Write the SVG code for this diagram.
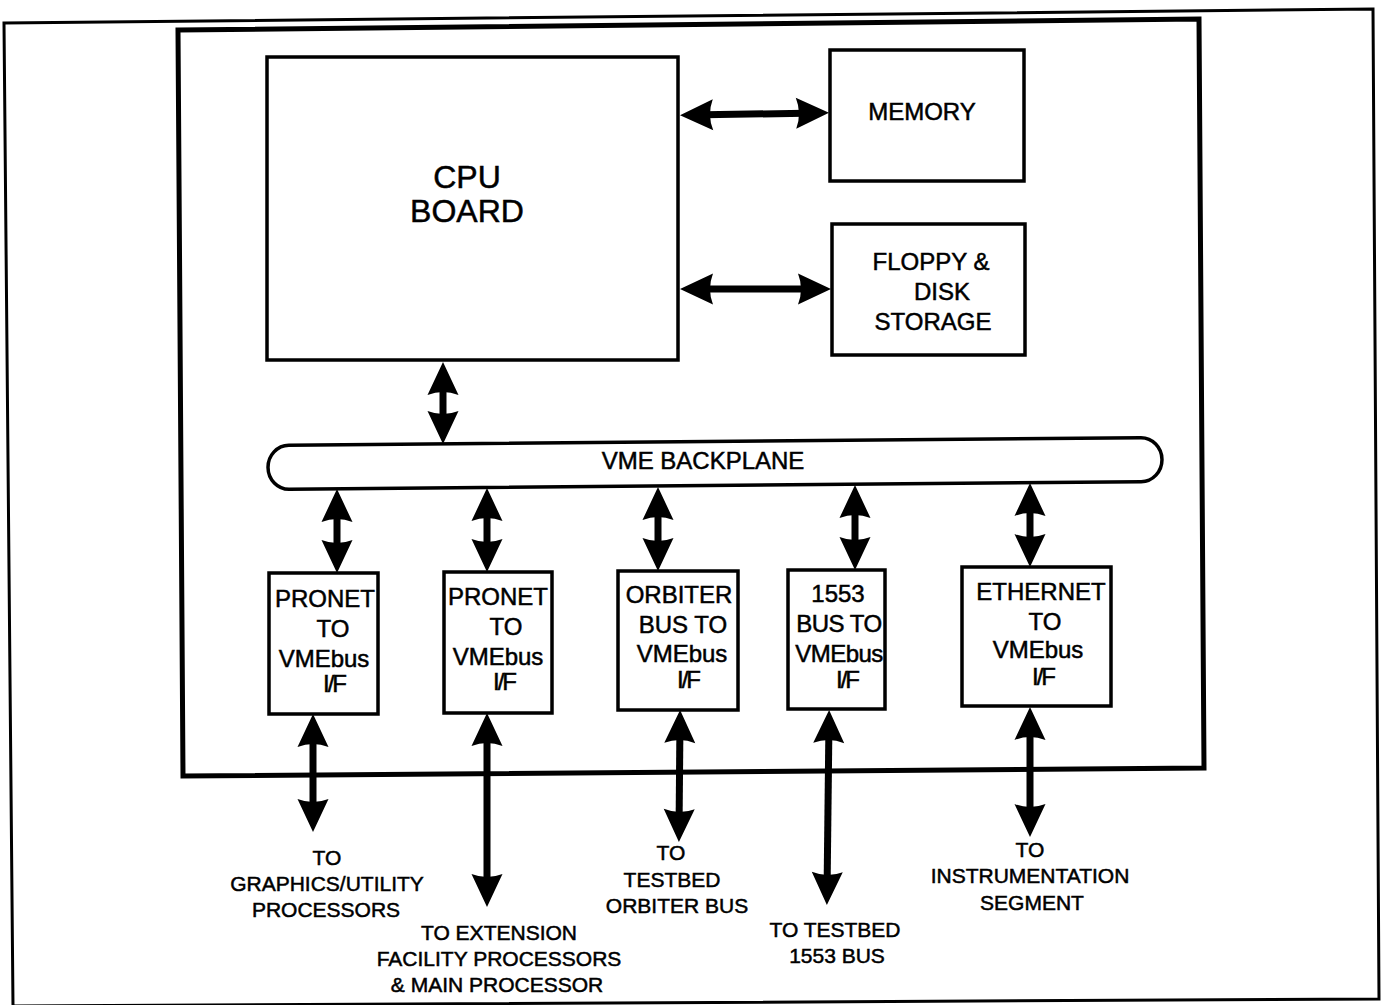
<svg xmlns="http://www.w3.org/2000/svg" width="1382" height="1005" viewBox="0 0 1382 1005">
  <style>
    .box { fill: #fff; stroke: #000; stroke-width: 3.5; }
    .frame { fill: none; stroke: #000; stroke-linejoin: miter; }
    .t { font-family: "Liberation Sans", Arial, Helvetica, sans-serif; fill: #000; stroke: #000; stroke-width: 0.5; text-anchor: middle; }
    .big { font-size: 32px; }
    .mid { font-size: 24px; }
    .lbl { font-size: 21px; }
    .slash { letter-spacing: -2px; }
    .link { fill: none; stroke: #000; stroke-width: 7; marker-start: url(#head); marker-end: url(#head); }
  </style>
  <defs>
    <!-- solid arrowhead with a slightly hollowed back edge -->
    <marker id="head" markerUnits="userSpaceOnUse" markerWidth="36" markerHeight="34" viewBox="0 -17 36 34" refX="23" refY="0" orient="auto-start-reverse" overflow="visible">
      <path d="M33,0 L0,-15.5 Q6,0 0,15.5 Z" fill="#000"/>
    </marker>
  </defs>

  <rect width="1382" height="1005" fill="#fff"/>

  <!-- page border and enclosure -->
  <g id="page-border">
    <polygon class="frame" stroke-width="3" points="4,23 1373,9 1379,999 13,1006"/>
  </g>
  <g id="enclosure">
    <polygon class="frame" stroke-width="5" points="178,30 1199,19 1204,768 183,776"/>
  </g>

  <g id="cpu-board">
    <rect class="box" x="267" y="57" width="411" height="303"/>
    <text class="t big" x="467" y="188">CPU</text>
    <text class="t big" x="467" y="222">BOARD</text>
  </g>

  <g id="memory">
    <rect class="box" x="830" y="50" width="194" height="131"/>
    <text class="t mid" x="922" y="120">MEMORY</text>
  </g>

  <g id="floppy-disk">
    <rect class="box" x="832" y="224" width="193" height="131"/>
    <text class="t mid" x="931" y="270">FLOPPY &amp;</text>
    <text class="t mid" x="942" y="300">DISK</text>
    <text class="t mid" x="933" y="330">STORAGE</text>
  </g>

  <g id="vme-backplane">
    <rect class="box" x="268" y="441.5" width="894" height="44" rx="21" ry="22" transform="rotate(-0.51 715 463.5)"/>
    <text class="t mid" x="703" y="469">VME BACKPLANE</text>
  </g>

  <g id="pronet-if-1">
    <rect class="box" x="269" y="573" width="109" height="141"/>
    <text class="t mid" x="325" y="607">PRONET</text>
    <text class="t mid" x="333" y="637">TO</text>
    <text class="t mid" x="324" y="667">VMEbus</text>
    <text class="t mid slash" x="334" y="692">I/F</text>
  </g>

  <g id="pronet-if-2">
    <rect class="box" x="444" y="572" width="108" height="141"/>
    <text class="t mid" x="498" y="605">PRONET</text>
    <text class="t mid" x="506" y="635">TO</text>
    <text class="t mid" x="498" y="665">VMEbus</text>
    <text class="t mid slash" x="504" y="690">I/F</text>
  </g>

  <g id="orbiter-if">
    <rect class="box" x="618" y="571" width="120" height="139"/>
    <text class="t mid" x="679" y="603">ORBITER</text>
    <text class="t mid" x="683" y="633">BUS TO</text>
    <text class="t mid" x="682" y="662">VMEbus</text>
    <text class="t mid slash" x="688" y="688">I/F</text>
  </g>

  <g id="bus1553-if">
    <rect class="box" x="788" y="570" width="97" height="139"/>
    <text class="t mid" x="838" y="602">1553</text>
    <text class="t mid" x="839" y="632" letter-spacing="-0.5">BUS TO</text>
    <text class="t mid" x="839" y="662" letter-spacing="-0.5">VMEbus</text>
    <text class="t mid slash" x="847" y="688">I/F</text>
  </g>

  <g id="ethernet-if">
    <rect class="box" x="962" y="567" width="149" height="139"/>
    <text class="t mid" x="1041" y="600">ETHERNET</text>
    <text class="t mid" x="1045" y="630">TO</text>
    <text class="t mid" x="1038" y="658">VMEbus</text>
    <text class="t mid slash" x="1043" y="685">I/F</text>
  </g>

  <!-- external destinations -->
  <g id="dest-graphics">
    <text class="t lbl" x="327" y="865">TO</text>
    <text class="t lbl" x="327" y="891">GRAPHICS/UTILITY</text>
    <text class="t lbl" x="326" y="917">PROCESSORS</text>
  </g>
  <g id="dest-extension">
    <text class="t lbl" x="499" y="940">TO EXTENSION</text>
    <text class="t lbl" x="499" y="966">FACILITY PROCESSORS</text>
    <text class="t lbl" x="497" y="992">&amp; MAIN PROCESSOR</text>
  </g>
  <g id="dest-orbiter">
    <text class="t lbl" x="671" y="860">TO</text>
    <text class="t lbl" x="672" y="887">TESTBED</text>
    <text class="t lbl" x="677" y="913">ORBITER BUS</text>
  </g>
  <g id="dest-1553">
    <text class="t lbl" x="835" y="937">TO TESTBED</text>
    <text class="t lbl" x="837" y="963">1553 BUS</text>
  </g>
  <g id="dest-instrumentation">
    <text class="t lbl" x="1030" y="857">TO</text>
    <text class="t lbl" x="1030" y="883">INSTRUMENTATION</text>
    <text class="t lbl" x="1032" y="910">SEGMENT</text>
  </g>

  <!-- bidirectional links -->
  <g id="connectors">
    <path class="link" d="M690,115 L819,113"/>
    <path class="link" d="M690,289 L821,289"/>
    <path class="link" d="M443,372 L443,434"/>
    <path class="link" d="M337,499 L337,563"/>
    <path class="link" d="M487,498 L487,562"/>
    <path class="link" d="M658,497 L658,561"/>
    <path class="link" d="M855,495 L855,560"/>
    <path class="link" d="M1030,493 L1030,557"/>
    <path class="link" d="M313,724 L313,822"/>
    <path class="link" d="M487,723 L487,897"/>
    <path class="link" d="M680,720 L679,832"/>
    <path class="link" d="M829,720 L827,895"/>
    <path class="link" d="M1030,717 L1030,827"/>
  </g>
</svg>
